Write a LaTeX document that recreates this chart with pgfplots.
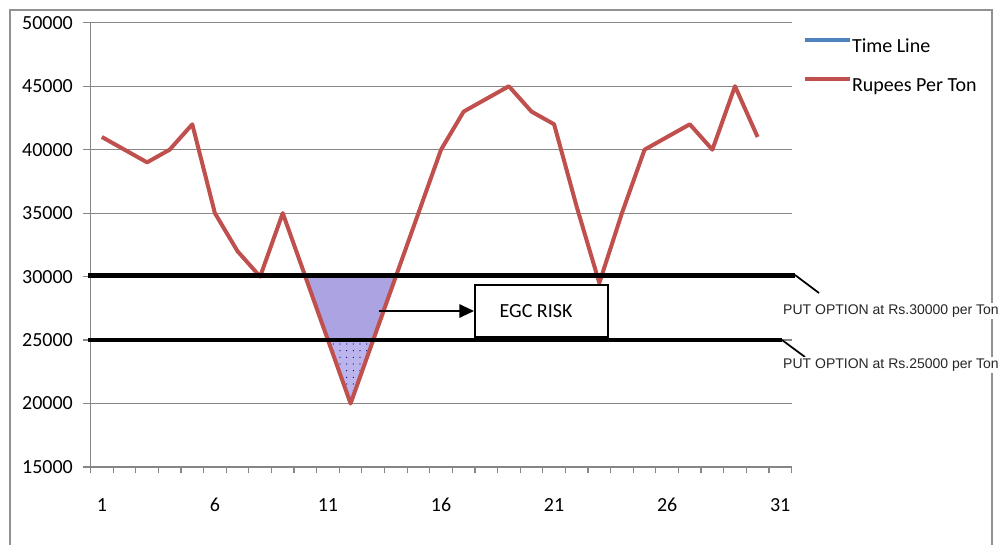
\documentclass[border=0pt]{standalone}
\usepackage{fontspec}
\setmainfont{Carlito}
\newfontfamily\arialfont{Liberation Sans}
\usepackage{pgfplots}
\pgfplotsset{compat=1.18}
\usetikzlibrary{arrows.meta,patterns.meta}

\definecolor{exred}{RGB}{192,80,77}
\definecolor{exblue}{RGB}{79,129,189}
\definecolor{gridgray}{RGB}{134,134,134}
\definecolor{riskfill}{RGB}{172,164,226}
\definecolor{riskfill2}{RGB}{188,180,236}

\begin{document}
\begin{tikzpicture}
% page frame in pixel units of the reference (1005 x 544)
\begin{scope}[x=0.75pt,y=-0.75pt,yshift=408pt]
\useasboundingbox (0,0) rectangle (1005,544);
\draw[gridgray!90, line width=0.8pt] (10,546) -- (10,10) -- (992,10) -- (992,546);
\end{scope}

\begin{axis}[
    at={(67.9pt,57.75pt)}, anchor=south west,
    scale only axis, width=525.75pt, height=333.2pt,
    xmin=0.5, xmax=31.5, ymin=15000, ymax=50000,
    axis x line*=bottom, axis y line*=left,
    axis line style={gridgray, line width=0.9pt},
    xtick={1,6,...,31},
    minor xtick={0.5,1.5,...,31.5},
    major x tick style={draw=none},
    ytick={15000,20000,...,50000},
    ymajorgrids, grid style={gridgray, line width=0.9pt},
    tick style={gridgray, line width=0.9pt},
    tick align=outside,
    major tick length=6pt, minor tick length=4.5pt,
    scaled y ticks=false,
    /pgf/number format/.cd, fixed, 1000 sep={}, assume math mode=true,
    /pgfplots/.cd,
    tick label style={font=\fontsize{15}{18}\selectfont, text=black},
    yticklabel style={xshift=-3.75pt},
    xticklabel style={yshift=-14pt},
    clip=false,
    legend style={at={(axis description cs:1.0164,0.967)}, anchor=north west,
        draw=none, fill=none, inner sep=0pt, outer sep=0pt,
        row sep=15.25pt, column sep=0pt,
        nodes={inner sep=0pt, text height=11pt, text depth=3pt,
               font=\fontsize{15}{18}\selectfont}},
    legend cell align=left,
    legend image code/.code={\draw[#1] (0pt,4.8pt) -- (33.75pt,4.8pt);},
]
% shaded risk zone between the price line and the put levels
\addplot[fill=riskfill, draw=none, forget plot]
    coordinates {(10,30000)(11,25000)(13,25000)(14,30000)} --cycle;
\addplot[fill=riskfill2, draw=none, forget plot]
    coordinates {(11,25000)(12,20000)(13,25000)} --cycle;
\addplot[draw=none, forget plot, pattern={Dots[distance=5pt,radius=0.45pt]}, pattern color=blue!50!black]
    coordinates {(11,25000)(12,20000)(13,25000)} --cycle;

\addlegendimage{exblue, line width=3pt}
\addlegendentry{Time Line}

\addplot[exred, line width=3pt, line join=round] coordinates {
    (1,41000)(2,40000)(3,39000)(4,40000)(5,42000)(6,35000)(7,32000)(8,30000)
    (9,35000)(10,30000)(11,25000)(12,20000)(13,25000)(14,30000)(15,35000)
    (16,40000)(17,43000)(18,44000)(19,45000)(20,43000)(21,42000)(22,35500)
    (23,29500)(24,35000)(25,40000)(26,41000)(27,42000)(28,40000)(29,45000)
    (30,41000)};
\addlegendentry{Rupees Per Ton}

% put option levels
\addplot[black, line width=3.4pt, forget plot] coordinates {(0.39,30100)(31.65,30100)};
\addplot[black, line width=3.4pt, forget plot] coordinates {(0.39,25000)(31.07,25000)};
\end{axis}

\begin{scope}[x=0.75pt,y=-0.75pt,yshift=408pt]
\draw[line width=1.3pt] (795,275) -- (819,293);
\draw[line width=1.3pt] (782,340) -- (805,357);
\node[fill=white, inner sep=1pt, text=black!85, font=\arialfont\fontsize{10.5}{12}\selectfont]
    at (891,311) {PUT OPTION at Rs.30000 per Ton};
\node[fill=white, inner sep=1pt, text=black!85, font=\arialfont\fontsize{10.5}{12}\selectfont]
    at (891,365) {PUT OPTION at Rs.25000 per Ton};
\draw[line width=1.5pt, fill=white] (475,285) rectangle (608,337);
\node[font=\fontsize{15}{18}\selectfont] at (536,311) {EGC RISK};
\draw[line width=1.5pt, -{Triangle[length=11pt,width=10pt]}] (379,311) -- (474,311);
\end{scope}
\end{tikzpicture}
\end{document}
